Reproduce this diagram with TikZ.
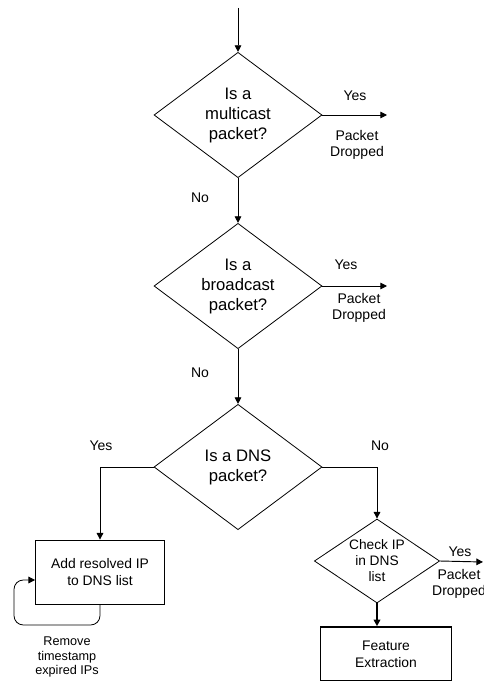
\documentclass[tikz,border=0pt]{standalone}
\usepackage{fontspec}
\setmainfont{Liberation Sans}
\usetikzlibrary{arrows.meta,positioning,shapes.geometric}
\tikzset{
  dec/.style   = {draw, diamond, aspect=1.35, inner sep=0pt, align=center,
                  minimum width=126pt, minimum height=94pt, line width=0.6pt,
                  font=\fontsize{12.5}{15}\selectfont},
  sdec/.style  = {dec, aspect=1.5, minimum width=94pt, minimum height=63pt,
                  font=\fontsize{10.3}{12}\selectfont},
  proc/.style  = {draw, rectangle, align=center, inner sep=2pt, line width=0.6pt,
                  font=\fontsize{10.4}{12.8}\selectfont},
  lbl/.style   = {inner sep=0pt, align=center, font=\fontsize{10.5}{12}\selectfont},
  note/.style  = {inner sep=0pt, align=center, font=\fontsize{9.5}{11}\selectfont},
  e/.style     = {-{Triangle[length=5pt,width=5pt]}, line width=0.7pt}
}
\begin{document}
\begin{tikzpicture}[x=0.75pt,y=-0.75pt]
  \useasboundingbox (0,0) rectangle (484,681);
  % main chain
  \coordinate (top) at (238,8);
  \node[dec] (mc)  at (238,115) {Is a\\multicast\\packet?};
  \node[dec] (bc)  at (238,286) {Is a\\broadcast\\packet?};
  \node[dec] (dns) at (238,467) {Is a DNS\\packet?};
  \draw[e] (top) -- (mc.north);
  \draw[e] (mc.south) -- (bc.north);
  \draw[e] (bc.south) -- (dns.north);
  \node[lbl] (mcno) at (200,198) {No};
  \node[lbl] (bcno) at (200,373) {No};
  % dropped branches
  \coordinate (mcout) at (387,115);
  \coordinate (bcout) at (387,286);
  \draw[e] (mc.east) -- (mcout);
  \draw[e] (bc.east) -- (bcout);
  \node[lbl] (mcyes) at (355,96)  {Yes};
  \node[lbl] (bcyes) at (346,265) {Yes};
  \node[lbl] (mcdrop) at (357,145) {Packet\\Dropped};
  \node[lbl] (bcdrop) at (359,308) {Packet\\Dropped};
  % dns yes
  \node[proc, minimum width=96.75pt, minimum height=48pt] (add) at (100,572)
    {Add resolved IP\\to DNS list};
  \draw[e] (dns.west) -| (add.north);
  \node[lbl] (dnsyes) at (101,446) {Yes};
  \coordinate (loop) at (14,625);
  \draw[e, line width=0.6pt, rounded corners=7pt]
    (add.south) |- (loop) |- ([yshift=-6pt]add.west);
  \node[note] (rm) at (67,657) {Remove\\timestamp\\expired IPs};
  % dns no
  \node[sdec] (chk) at (377,561) {Check IP\\in DNS\\list};
  \draw[e] (dns.east) -| (chk.north);
  \node[lbl] (dnsno) at (380,446) {No};
  \coordinate (chkout) at (483,562);
  \draw[e] (chk.east) -- (chkout);
  \node[lbl] (chkyes) at (460,552) {Yes};
  \node[lbl] (chkdrop) at (459,584) {Packet\\Dropped};
  \node[proc, line width=1.2pt, minimum width=98pt, minimum height=40.5pt] (feat)
    at (386,654) {Feature\\Extraction};
  \draw[e, line width=1.4pt] (chk.south) -- (chk.south |- feat.north);
\end{tikzpicture}
\end{document}
